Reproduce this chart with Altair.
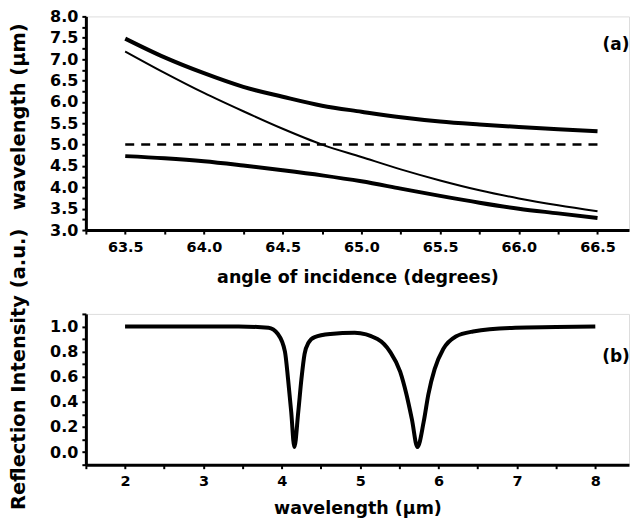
import altair as alt
import pandas as pd

# ---- panel (a) data ----
angle = [63.5, 63.75, 64.0, 64.25, 64.5, 64.75, 65.0, 65.25, 65.5, 65.75, 66.0, 66.25, 66.5]
upper_thick = [7.48, 7.04, 6.67, 6.35, 6.12, 5.91, 5.77, 5.64, 5.54, 5.47, 5.41, 5.36, 5.31]
thin_curve = [7.18, 6.68, 6.21, 5.78, 5.37, 5.00, 4.71, 4.42, 4.16, 3.93, 3.74, 3.58, 3.44]
lower_thick = [4.73, 4.68, 4.61, 4.51, 4.40, 4.28, 4.14, 3.97, 3.80, 3.64, 3.50, 3.39, 3.28]
dash_x = [63.5, 66.5]
dash_y = [5.0, 5.0]

# ---- panel (b) data ----
wl = [2.0, 3.0, 3.45, 3.83, 3.95, 4.04, 4.08, 4.12, 4.16, 4.21, 4.25, 4.29, 4.34, 4.42, 4.62,
      4.93, 5.22, 5.38, 5.51, 5.59, 5.66, 5.73, 5.81, 5.87, 5.95, 6.06, 6.22, 6.44, 6.98, 7.5, 8.0]
refl = [1.0, 1.0, 1.0, 0.99, 0.94, 0.80, 0.58, 0.32, 0.04, 0.32, 0.58, 0.78, 0.87, 0.915, 0.94,
        0.95, 0.90, 0.80, 0.64, 0.46, 0.26, 0.04, 0.24, 0.46, 0.66, 0.82, 0.92, 0.96, 0.99, 0.995, 1.0]

FONT = "DejaVu Sans"
W = 544

xa_vals = [63.25 + 0.25 * i for i in range(14)]
ya_vals = [3.0 + 0.25 * i for i in range(21)]
xb_vals = [1.5 + 0.5 * i for i in range(14)]
yb_vals = [-0.1 + 0.1 * i for i in range(13)]

def ax(title, vals, labelexpr, fmt, lsize, tsize, **kw):
    return alt.Axis(title=title, values=vals, labelExpr=labelexpr, format=fmt, grid=False,
                    domainColor="black", domainWidth=3, tickColor="black", tickWidth=2,
                    tickSize=4, labelFont=FONT, labelFontSize=lsize, labelFontWeight="bold",
                    labelColor="black", titleFont=FONT, titleFontSize=tsize,
                    titleFontWeight="bold", titleColor="black", **kw)

xsc_a = alt.Scale(domain=[63.25, 66.7], nice=False, zero=False)
ysc_a = alt.Scale(domain=[3.0, 8.0], nice=False, zero=False)

df_a = pd.DataFrame({"angle": angle * 3,
                     "val": upper_thick + thin_curve + lower_thick,
                     "series": ["upper"] * len(angle) + ["thin"] * len(angle) + ["lower"] * len(angle)})

x_a = alt.X("angle:Q", scale=xsc_a,
            axis=ax("angle of incidence (degrees)", xa_vals,
                    "(round(datum.value*100) % 50 == 0) ? format(datum.value, '.1f') : ''", ".1f",
                    14.5, 17.5, labelPadding=6, titlePadding=15))
y_a = alt.Y("val:Q", scale=ysc_a,
            axis=ax("wavelength (\u00b5m)", ya_vals,
                    "(round(datum.value*100) % 50 == 0) ? format(datum.value, '.1f') : ''", ".1f",
                    16, 19.5, labelPadding=4, titlePadding=21, titleY=100))

thick_a = alt.Chart(df_a).transform_filter("datum.series != 'thin'").mark_line(
    color="black", strokeWidth=4, interpolate="monotone").encode(x=x_a, y=y_a, detail="series:N")
thin_a = alt.Chart(df_a).transform_filter("datum.series == 'thin'").mark_line(
    color="black", strokeWidth=2, interpolate="monotone").encode(x=x_a, y=y_a)
dash_a = alt.Chart(pd.DataFrame({"angle": dash_x, "val": dash_y})).mark_line(
    color="black", strokeWidth=2.5, strokeDash=[9, 7]).encode(x=x_a, y=y_a)
lab_a = alt.Chart(pd.DataFrame({"t": ["(a)"]})).mark_text(
    font=FONT, fontSize=17, fontWeight="bold", color="black").encode(
    text="t:N", x=alt.value(531), y=alt.value(29))

top = alt.layer(dash_a, thin_a, thick_a, lab_a).properties(width=W, height=214)

xsc_b = alt.Scale(domain=[1.5, 8.43], nice=False, zero=False)
ysc_b = alt.Scale(domain=[-0.1, 1.1], nice=False, zero=False)
df_b = pd.DataFrame({"wl": wl, "r": refl})
x_b = alt.X("wl:Q", scale=xsc_b,
            axis=ax("wavelength (\u00b5m)", xb_vals,
                    "(round(datum.value*10) % 10 == 0) ? format(datum.value, '.0f') : ''", ".0f",
                    14.5, 17.5, labelPadding=6, titlePadding=11))
y_b = alt.Y("r:Q", scale=ysc_b,
            axis=ax("Reflection Intensity (a.u.)", yb_vals,
                    "(round(datum.value*10) % 2 == 0 && datum.value > -0.05 && datum.value < 1.05) ? format(datum.value, '.1f') : ''", ".1f",
                    16, 19.5, labelPadding=4, titlePadding=21, titleY=55))
line_b = alt.Chart(df_b).mark_line(color="black", strokeWidth=4, interpolate="monotone").encode(x=x_b, y=y_b)
lab_b = alt.Chart(pd.DataFrame({"t": ["(b)"]})).mark_text(
    font=FONT, fontSize=17, fontWeight="bold", color="black").encode(
    text="t:N", x=alt.value(531), y=alt.value(43))
bottom = alt.layer(line_b, lab_b).properties(width=W, height=151)

chart = alt.vconcat(top, bottom, spacing=84, bounds="flush").configure_view(stroke=None).configure(
    padding={"left": 0, "top": -1, "right": 0, "bottom": 0})

chart.save("out.html", embed_options={"renderer": "svg", "actions": False})
